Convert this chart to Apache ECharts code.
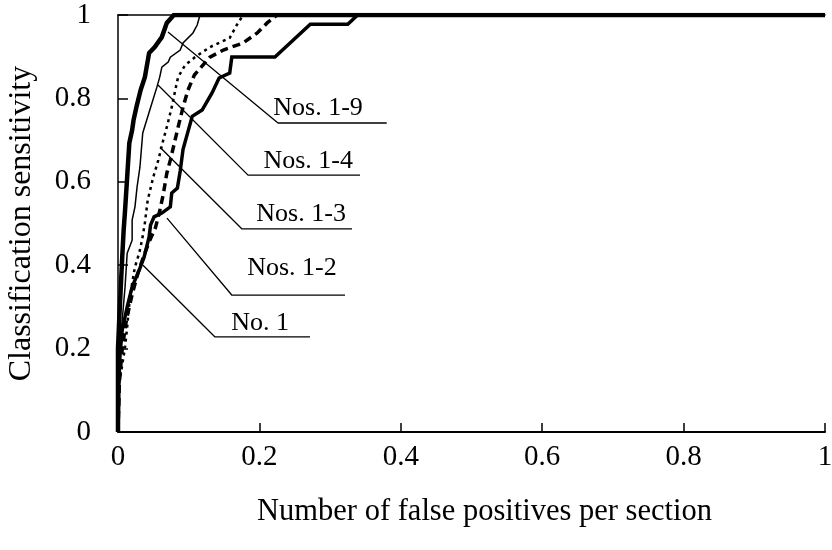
<!DOCTYPE html>
<html>
<head>
<meta charset="utf-8">
<script src="https://cdn.jsdelivr.net/npm/echarts@6/dist/echarts.min.js"></script>
<style>html,body{margin:0;padding:0;background:#fff;}#c{width:832px;height:550px;}</style>
</head>
<body>
<div id="c"></div>
<script>
var xTicks = [0, 0.2, 0.4, 0.6, 0.8, 1];
var yTicks = [0, 0.2, 0.4, 0.6, 0.8, 1];

var no1 = [[0,0],[0.001,0.08],[0.001,0.108],[0.003,0.19],[0.006,0.245],[0.013,0.30],[0.020,0.348],[0.030,0.388],[0.037,0.42],[0.044,0.468],[0.046,0.496],[0.051,0.516],[0.062,0.525],[0.074,0.540],[0.076,0.573],[0.084,0.585],[0.088,0.626],[0.092,0.678],[0.105,0.757],[0.119,0.772],[0.133,0.813],[0.143,0.849],[0.158,0.861],[0.161,0.899],[0.222,0.899],[0.272,0.978],[0.325,0.978],[0.339,1],[1,1]];
var nos12 = [[0,0],[0.002,0.12],[0.006,0.2],[0.012,0.27],[0.020,0.33],[0.028,0.38],[0.037,0.425],[0.045,0.46],[0.053,0.49],[0.059,0.53],[0.064,0.57],[0.069,0.62],[0.074,0.652],[0.080,0.695],[0.085,0.731],[0.092,0.779],[0.099,0.820],[0.108,0.856],[0.130,0.899],[0.149,0.916],[0.177,0.933],[0.197,0.957],[0.211,0.981],[0.225,1],[1,1]];
var nos13 = [[0,0],[0,0.1],[0.005,0.15],[0.010,0.204],[0.013,0.252],[0.016,0.309],[0.020,0.357],[0.024,0.396],[0.030,0.429],[0.034,0.460],[0.038,0.501],[0.042,0.556],[0.050,0.612],[0.057,0.652],[0.064,0.700],[0.069,0.731],[0.076,0.779],[0.081,0.820],[0.085,0.851],[0.095,0.880],[0.109,0.899],[0.130,0.923],[0.158,0.945],[0.168,0.976],[0.177,1],[1,1]];
var nos14 = [[0,0],[0,0.1],[0.002,0.2],[0.005,0.25],[0.010,0.348],[0.013,0.429],[0.020,0.460],[0.020,0.508],[0.024,0.540],[0.027,0.588],[0.031,0.635],[0.035,0.717],[0.045,0.772],[0.055,0.827],[0.059,0.851],[0.062,0.875],[0.071,0.887],[0.074,0.899],[0.088,0.916],[0.092,0.933],[0.106,0.957],[0.112,0.976],[0.116,1],[1,1]];
var nos19 = [[0,0],[0,0.2],[0.002,0.28],[0.004,0.35],[0.006,0.42],[0.008,0.484],[0.010,0.532],[0.013,0.612],[0.016,0.693],[0.020,0.724],[0.022,0.748],[0.026,0.779],[0.032,0.820],[0.038,0.851],[0.044,0.909],[0.052,0.923],[0.062,0.947],[0.069,0.981],[0.079,1],[1,1]];

var labelNames = ['Nos. 1-9','Nos. 1-4','Nos. 1-3','Nos. 1-2','No. 1'];
var leaders = [
  [[0.0707,0.959],[0.2263,0.741],[0.3801,0.741]],
  [[0.0566,0.832],[0.1839,0.616],[0.3423,0.616]],
  [[0.0594,0.683],[0.1754,0.487],[0.3310,0.487]],
  [[0.0693,0.513],[0.1612,0.328],[0.3211,0.328]],
  [[0.0354,0.400],[0.1372,0.228],[0.2716,0.228]]
];
var labelPos = [[0.283,0.777],[0.269,0.650],[0.259,0.523],[0.246,0.393],[0.201,0.261]];

var FONT = "'Liberation Serif','Times New Roman',serif";
var chart = echarts.init(document.getElementById('c'), null, {renderer:'canvas'});

var series = [];
function curve(name, data, width, type){
  series.push({name:name, type:'line', data:data, showSymbol:false, symbol:'none', silent:true, animation:false,
    lineStyle:{color:'#000', width:width, type:type, cap:'butt', join:'miter'}, z:3});
}
curve('No. 1', no1, 3.5, 'solid');
curve('Nos. 1-2', nos12, 3.5, [8,5]);
curve('Nos. 1-3', nos13, 2.5, [3,4]);
curve('Nos. 1-4', nos14, 1.5, 'solid');
curve('Nos. 1-9', nos19, 4.5, 'solid');
leaders.forEach(function(l, i){
  series.push({type:'line', data:l, showSymbol:false, symbol:'none', silent:true, animation:false,
    lineStyle:{color:'#000', width:1.3}, z:4});
});
series.push({type:'scatter', symbolSize:1, silent:true, animation:false,
  itemStyle:{color:'#000', opacity:0},
  data: labelPos.map(function(p, i){ return {value:p, name:labelNames[i]}; }),
  label:{show:true, position:'inside', formatter:'{b}', color:'#000', opacity:1, textBorderWidth:0,
    fontFamily:FONT, fontSize:26}, z:5});

chart.setOption({
  animation:false,
  backgroundColor:'#fff',
  grid:{left:118, right:7, top:15, bottom:118, containLabel:false, outerBoundsMode:'none'},
  xAxis:[{
    type:'value', min:0, max:1, interval:0.2,
    axisLine:{show:true, onZero:false, lineStyle:{color:'#000', width:2}},
    axisTick:{show:true, inside:true, length:9, lineStyle:{color:'#000', width:1.5}},
    splitLine:{show:false},
    axisLabel:{margin:11, color:'#000', fontFamily:FONT, fontSize:29,
      formatter:function(v){ return String(+v.toFixed(1)); }},
    name:'Number of false positives per section', nameLocation:'middle', nameGap:64,
    nameTextStyle:{color:'#000', fontFamily:FONT, fontSize:30.5, padding:[0,0,0,26]}
  },{
    type:'value', min:0, max:1, position:'top',
    axisLine:{show:true, onZero:false, lineStyle:{color:'#000', width:1.5}},
    axisTick:{show:false}, axisLabel:{show:false}, splitLine:{show:false}
  }],
  yAxis:{
    type:'value', min:0, max:1, interval:0.2,
    axisLine:{show:true, onZero:false, lineStyle:{color:'#000', width:1.5}},
    axisTick:{show:true, inside:true, length:10, lineStyle:{color:'#000', width:1.5}},
    splitLine:{show:false},
    axisLabel:{margin:27, color:'#000', fontFamily:FONT, fontSize:29, padding:[10,0,0,0],
      formatter:function(v){ return String(+v.toFixed(1)); }},
    name:'Classification sensitivity', nameLocation:'middle', nameGap:80,
    nameTextStyle:{color:'#000', fontFamily:FONT, fontSize:32}
  },
  series:series
});
</script>
</body>
</html>
